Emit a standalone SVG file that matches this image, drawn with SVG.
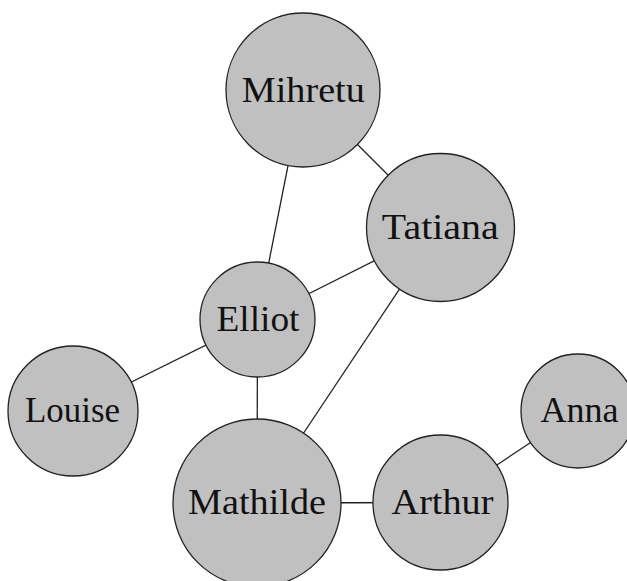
<svg xmlns="http://www.w3.org/2000/svg" width="627" height="581" viewBox="0 0 627 581">
  <style>
    .edge { stroke: #222; stroke-width: 1.3; fill: none; }
    .node circle { fill: #c0c0c0; stroke: #222; stroke-width: 1.3; }
    .node text { font-family: "Liberation Serif", "Times New Roman", serif; font-size: 36px; fill: #111; text-anchor: middle; }
  </style>
  <rect width="627" height="581" fill="#ffffff"/>
  <g id="connectors">
    <line class="edge" x1="303" y1="90" x2="440.5" y2="227.5"/>
    <line class="edge" x1="303" y1="90" x2="257.5" y2="319.5"/>
    <line class="edge" x1="440.5" y1="227.5" x2="257.5" y2="319.5"/>
    <line class="edge" x1="440.5" y1="227.5" x2="257" y2="503"/>
    <line class="edge" x1="257.5" y1="319.5" x2="73" y2="411"/>
    <line class="edge" x1="257.5" y1="319.5" x2="257" y2="503"/>
    <line class="edge" x1="257" y1="503" x2="440.5" y2="502.5"/>
    <line class="edge" x1="440.5" y1="502.5" x2="578" y2="411"/>
  </g>
  <g id="node-mihretu" class="node">
    <circle cx="303" cy="90" r="77"/>
    <text x="303.3" y="101.5" textLength="123" lengthAdjust="spacingAndGlyphs">Mihretu</text>
  </g>
  <g id="node-tatiana" class="node">
    <circle cx="440.5" cy="227.5" r="74"/>
    <text x="440.3" y="238.5" textLength="117" lengthAdjust="spacingAndGlyphs">Tatiana</text>
  </g>
  <g id="node-elliot" class="node">
    <circle cx="257.5" cy="319.5" r="57.5"/>
    <text x="258" y="330.5" textLength="83" lengthAdjust="spacingAndGlyphs">Elliot</text>
  </g>
  <g id="node-louise" class="node">
    <circle cx="73" cy="411" r="65"/>
    <text x="72.5" y="422" textLength="95" lengthAdjust="spacingAndGlyphs">Louise</text>
  </g>
  <g id="node-mathilde" class="node">
    <circle cx="257" cy="503" r="84"/>
    <text x="257" y="513.5" textLength="138" lengthAdjust="spacingAndGlyphs">Mathilde</text>
  </g>
  <g id="node-arthur" class="node">
    <circle cx="440.5" cy="502.5" r="67.5"/>
    <text x="442.5" y="513.5" textLength="102" lengthAdjust="spacingAndGlyphs">Arthur</text>
  </g>
  <g id="node-anna" class="node">
    <circle cx="578" cy="411" r="57"/>
    <text x="579.5" y="422.3" textLength="78" lengthAdjust="spacingAndGlyphs">Anna</text>
  </g>
</svg>
